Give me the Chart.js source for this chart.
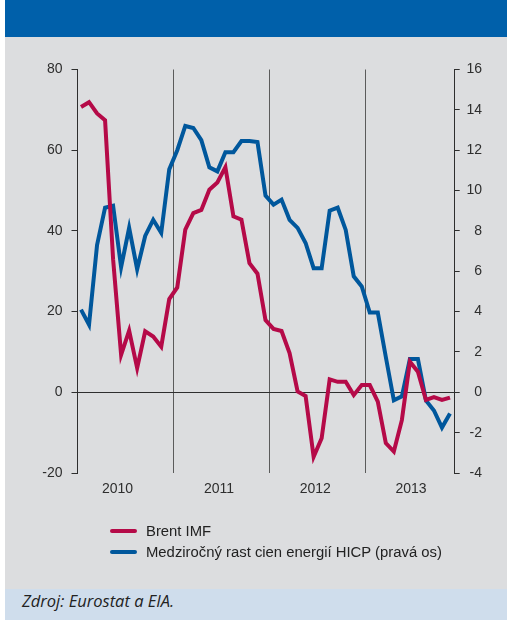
<!DOCTYPE html>
<html lang="sk">
<head>
<meta charset="utf-8">
<script src="https://cdn.jsdelivr.net/npm/chart.js@4.4.0/dist/chart.umd.min.js"></script>
<style>
  html, body { margin: 0; padding: 0; background: #ffffff; }
  #fig { position: relative; width: 507px; height: 620px; overflow: hidden;
         font-family: "Liberation Sans", Arial, sans-serif; }
  #head  { position: absolute; left: 5px; top: 0; width: 502px; height: 37px; background: #0060aa; }
  #panel { position: absolute; left: 5px; top: 37px; width: 502px; height: 552px; background: #dcdddf; }
  #src   { position: absolute; left: 5px; top: 589px; width: 502px; height: 31px; background: #cfddec; }
  #src span { position: absolute; left: 17px; top: 1.5px; font-family: "Open Sans", sans-serif;
              font-style: italic; font-size: 16.5px; line-height: 20px; color: #222; white-space: nowrap; }
  #chart { position: absolute; left: 0; top: 0; }
  #legend { position: absolute; left: 110px; top: 520px; }
  .item { display: flex; align-items: center; height: 21px; font-size: 14.85px; color: #222; white-space: nowrap; }
  .swatch { width: 27px; height: 4px; border-radius: 2px; margin-right: 9px; }
</style>
</head>
<body>
<div id="fig">
  <div id="head"></div>
  <div id="panel"></div>
  <div id="src"><span>Zdroj: Eurostat a EIA.</span></div>
  <canvas id="chart" width="507" height="620"></canvas>
  <div id="legend"></div>
</div>
<script>
// Monthly observations, January 2010 – November 2013
const months = [
  '2010-01','2010-02','2010-03','2010-04','2010-05','2010-06','2010-07','2010-08','2010-09','2010-10','2010-11','2010-12',
  '2011-01','2011-02','2011-03','2011-04','2011-05','2011-06','2011-07','2011-08','2011-09','2011-10','2011-11','2011-12',
  '2012-01','2012-02','2012-03','2012-04','2012-05','2012-06','2012-07','2012-08','2012-09','2012-10','2012-11','2012-12',
  '2013-01','2013-02','2013-03','2013-04','2013-05','2013-06','2013-07','2013-08','2013-09','2013-10','2013-11'
];
const years = ['2010', '2011', '2012', '2013'];

// Brent (IMF), year-on-year change, % – left axis
const brentImf = [
  70.7, 71.9, 69.1, 67.4, 33.0, 9.3, 15.3, 6.0, 15.1, 13.8, 11.3, 23.1,
  26.0, 40.3, 44.4, 45.2, 50.2, 52.0, 55.8, 43.6, 42.8, 32.0, 29.4, 17.9,
  15.7, 15.2, 9.7, 0.2, -0.9, -16.0, -11.4, 3.2, 2.6, 2.6, -0.7, 1.8,
  1.8, -2.3, -12.6, -14.7, -6.9, 7.6, 5.1, -1.9, -1.2, -1.9, -1.3
];

// HICP energy, year-on-year growth, % – right axis
const hicpEnergy = [
  4.1, 3.35, 7.3, 9.15, 9.25, 6.2, 8.15, 6.1, 7.75, 8.55, 7.9, 11.05,
  12.0, 13.2, 13.1, 12.5, 11.15, 10.95, 11.9, 11.9, 12.45, 12.45, 12.4, 9.75,
  9.3, 9.55, 8.55, 8.15, 7.4, 6.15, 6.15, 9.0, 9.15, 8.05, 5.75, 5.25,
  3.95, 3.95, 1.75, -0.4, -0.2, 1.65, 1.65, -0.4, -0.9, -1.75, -1.05
];

const RED = '#b50a48';
const BLUE = '#00579c';
const INK = '#2e2e2e';
const TICK_FONT = { family: '"Liberation Sans", Arial, sans-serif', size: 14 };

// Year separators sit between December and January; year captions sit under each year
const yearBreaks = [11.5, 23.5, 35.5];
const yearCaptionAt = [4.55, 17.2, 29.2, 41.15];

const series = [
  { label: 'Brent IMF', values: brentImf, color: RED, axis: 'y' },
  { label: 'Medziročný rast cien energií HICP (pravá os)', values: hicpEnergy, color: BLUE, axis: 'y1' }
];

new Chart(document.getElementById('chart'), {
  type: 'line',
  data: {
    datasets: series.map(s => ({
      label: s.label,
      data: s.values.map((v, i) => ({ x: i, y: v, month: months[i] })),
      borderColor: s.color,
      backgroundColor: s.color,
      borderWidth: 4,
      pointRadius: 0,
      tension: 0,
      fill: false,
      yAxisID: s.axis
    }))
  },
  options: {
    responsive: false,
    animation: false,
    devicePixelRatio: 1,
    layout: { padding: { left: 0, right: 25, top: 69.5, bottom: 117 } },
    plugins: { legend: { display: false }, tooltip: { enabled: false } },
    scales: {
      x: {
        type: 'linear',
        min: -0.5,
        max: 46.5,
        afterBuildTicks: scale => {
          scale.ticks = yearBreaks.concat(yearCaptionAt).sort((a, b) => a - b).map(v => ({ value: v }));
        },
        afterFit: scale => { scale.height = 30; },
        ticks: {
          autoSkip: false,
          maxRotation: 0,
          padding: 7.6,
          color: INK,
          font: TICK_FONT,
          callback: value => {
            const i = yearCaptionAt.indexOf(value);
            return i >= 0 ? years[i] : '';
          }
        },
        grid: {
          drawTicks: false,
          lineWidth: 1,
          color: ctx => (ctx.tick && yearBreaks.includes(ctx.tick.value)) ? '#5b5b5b' : 'rgba(0,0,0,0)'
        },
        border: { display: false }
      },
      y: {
        position: 'left',
        min: -20,
        max: 80,
        afterFit: scale => { scale.width = 77; },
        ticks: { stepSize: 20, padding: 9, color: INK, font: TICK_FONT },
        grid: {
          drawOnChartArea: true,
          tickLength: 5.5,
          tickColor: INK,
          lineWidth: 1,
          color: ctx => (ctx.tick && ctx.tick.value === 0) ? INK : 'rgba(0,0,0,0)'
        },
        border: { display: true, color: INK, width: 1 }
      },
      y1: {
        position: 'right',
        min: -4,
        max: 16,
        afterFit: scale => { scale.width = 28; },
        ticks: { stepSize: 2, padding: 7, crossAlign: 'far', color: INK, font: TICK_FONT },
        grid: { drawOnChartArea: false, tickLength: 5.7, tickColor: INK, lineWidth: 1 },
        border: { display: true, color: INK, width: 1 }
      }
    }
  }
});

// Legend built from the same series definitions
const legend = document.getElementById('legend');
series.forEach(s => {
  const row = document.createElement('div');
  row.className = 'item';
  const sw = document.createElement('span');
  sw.className = 'swatch';
  sw.style.background = s.color;
  const txt = document.createElement('span');
  txt.textContent = s.label;
  row.appendChild(sw);
  row.appendChild(txt);
  legend.appendChild(row);
});
</script>
</body>
</html>
